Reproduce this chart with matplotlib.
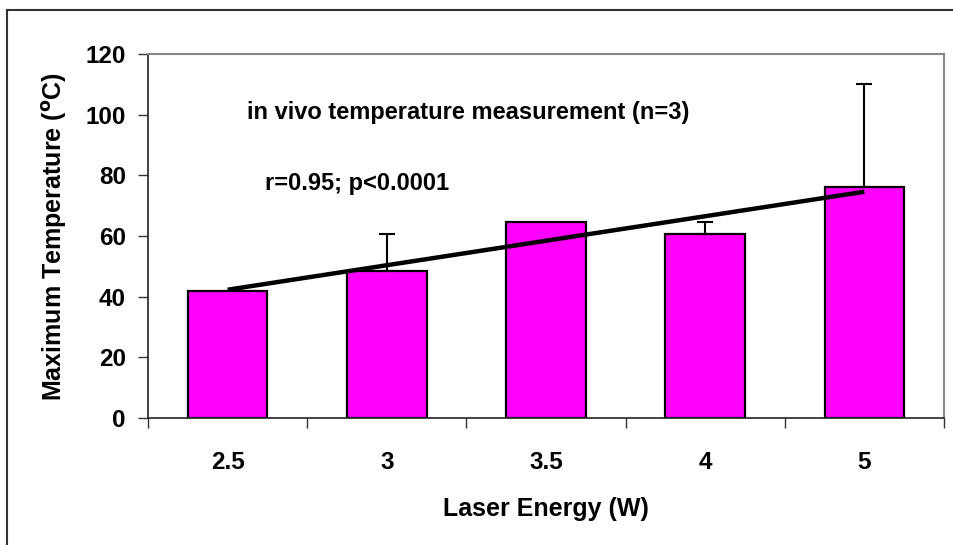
import numpy as np
import matplotlib
matplotlib.use("Agg")
import matplotlib.pyplot as plt
from matplotlib.lines import Line2D

# data
energie = ["2.5", "3", "3.5", "4", "5"]
sicaklik = [42.0, 48.6, 64.5, 60.8, 76.3]
hata_ust = [0.0, 12.2, 0.0, 3.8, 33.8]

plt.rcParams['font.family'] = ['Liberation Sans', 'DejaVu Sans']
plt.rcParams['font.weight'] = 'bold'

fig = plt.figure(figsize=(9.54, 5.45), dpi=100)
ax = fig.add_axes([148/954, 1-418/545, (944-148)/954, (418-54)/545])

x = np.arange(len(energie))
ax.bar(x, sicaklik, width=0.5, color='#ff00ff', edgecolor='black', linewidth=1.6, zorder=2)

# sadece yukari hata cubuklari
maske = np.array(hata_ust) > 0
ax.errorbar(x[maske], np.array(sicaklik)[maske],
            yerr=[np.zeros(maske.sum()), np.array(hata_ust)[maske]],
            fmt='none', ecolor='black', elinewidth=1.5, capsize=5.5, capthick=1.5, zorder=3)

# dogrusal trend cizgisi
egim, kesim = np.polyfit(x + 1, sicaklik, 1)
ax.plot(x, egim * (x + 1) + kesim, color='black', linewidth=3.2, zorder=4,
        solid_capstyle='butt')

ax.set_xlim(-0.5, len(energie) - 0.5)
ax.set_ylim(0, 120)
ax.set_yticks(np.arange(0, 121, 20))
ax.set_xticks(np.arange(-0.5, len(energie), 1.0))
ax.set_xticklabels([])
ax.set_xticks(x, minor=True)
ax.set_xticklabels(energie, minor=True)
ax.tick_params(axis='x', which='major', direction='out', length=7, width=1, color='#333333')
ax.tick_params(axis='x', which='minor', length=0, pad=24, labelsize=17.5)
ax.tick_params(axis='y', direction='out', length=7, width=1, color='#333333', labelsize=17.5, pad=9)

for s in ['top', 'right']:
    ax.spines[s].set_color('#888888')
    ax.spines[s].set_linewidth(1.5)
for s in ['left', 'bottom']:
    ax.spines[s].set_color('#222222')
    ax.spines[s].set_linewidth(1.2)

ax.set_xlabel('Laser Energy (W)', fontsize=18, fontweight='bold', labelpad=16)
ax.set_ylabel(r'Maximum Temperature ($^{\mathrm{o}}$C)', fontsize=18, fontweight='bold', labelpad=12)

ax.text(0.124, 0.838, 'in vivo temperature measurement (n=3)', transform=ax.transAxes,
        fontsize=17, fontweight='bold', va='center', ha='left')
ax.text(0.147, 0.643, 'r=0.95; p<0.0001', transform=ax.transAxes,
        fontsize=17, fontweight='bold', va='center', ha='left')

# dis cerceve: ust ve sol cizgi
fig.add_artist(Line2D([7/954, 1.0], [1-10/545, 1-10/545], transform=fig.transFigure,
                      color='#333333', linewidth=1.5))
fig.add_artist(Line2D([7/954, 7/954], [0.0, 1-10/545], transform=fig.transFigure,
                      color='#333333', linewidth=1.5))

fig.savefig('out.png', dpi=100)
